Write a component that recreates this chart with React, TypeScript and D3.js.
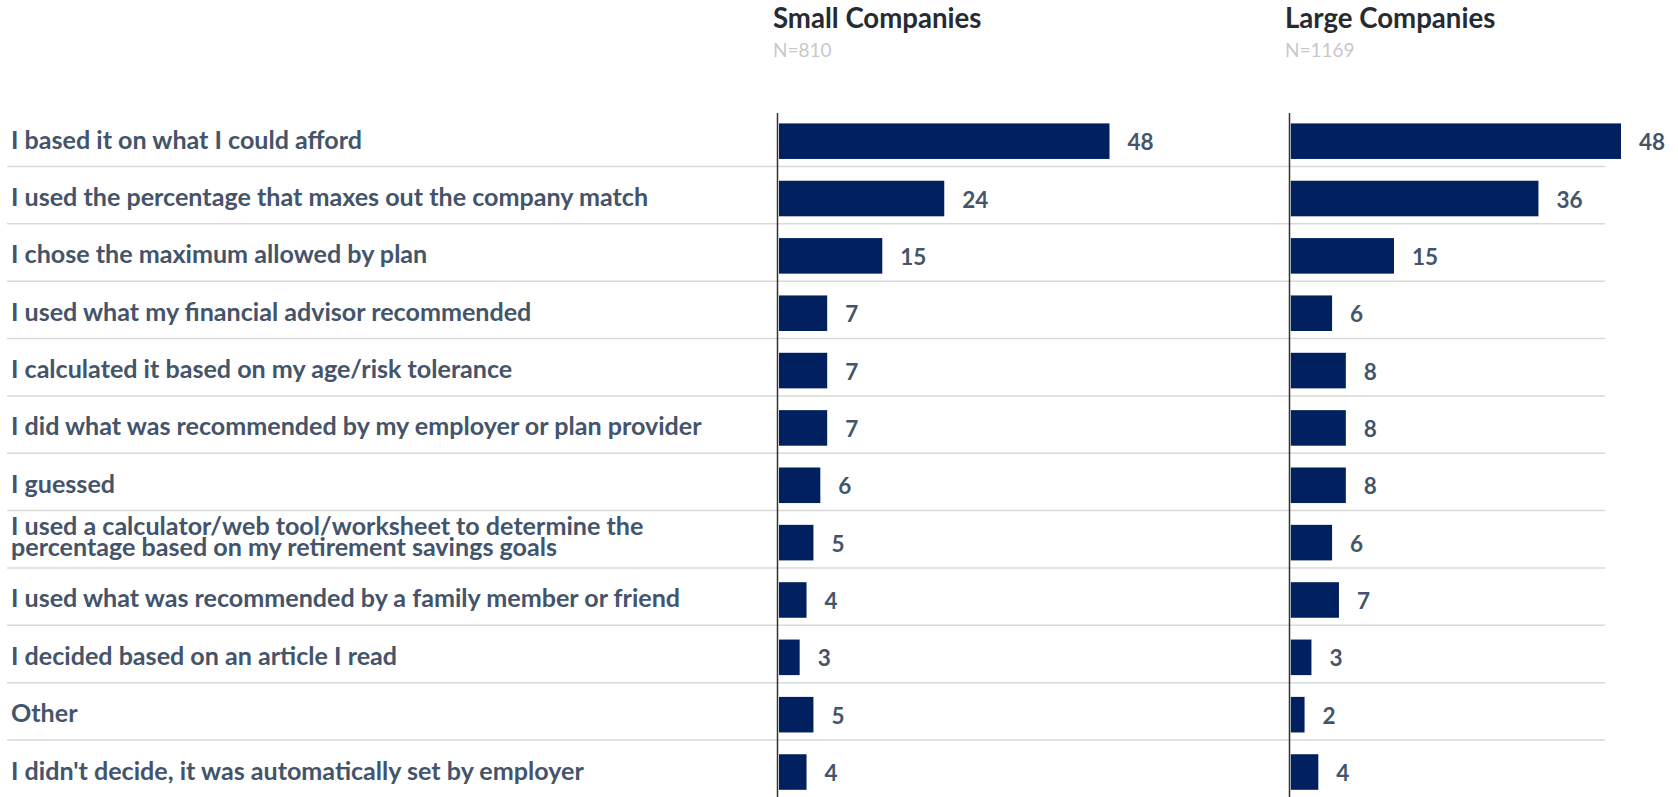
import React from "react";
import * as d3 from "d3";

const categories: string[] = [
  "I based it on what I could afford",
  "I used the percentage that maxes out the company match",
  "I chose the maximum allowed by plan",
  "I used what my financial advisor recommended",
  "I calculated it based on my age/risk tolerance",
  "I did what was recommended by my employer or plan provider",
  "I guessed",
  "I used a calculator/web tool/worksheet to determine the\npercentage based on my retirement savings goals",
  "I used what was recommended by a family member or friend",
  "I decided based on an article I read",
  "Other",
  "I didn't decide, it was automatically set by employer",
];

const smallValues: number[] = [48, 24, 15, 7, 7, 7, 6, 5, 4, 3, 5, 4];
const largeValues: number[] = [48, 36, 15, 6, 8, 8, 8, 6, 7, 3, 2, 4];

const panelTitles: string[] = ["Small Companies", "Large Companies"];
const panelN: string[] = ["N=810", "N=1169"];

const W = 1678;
const H = 797;
const FONT = "Lato, 'Open Sans', sans-serif";
const BAR = "#002060";
const TEXT = "#44546A";

export default function App() {
  const y = d3
    .scaleBand<string>()
    .domain(categories)
    .range([112.5, 112.5 + 12 * 57.35])
    .paddingInner(0.38)
    .paddingOuter(0.19);

  const panels = [
    { title: panelTitles[0], n: panelN[0], values: smallValues, axisX: 777.5, x: d3.scaleLinear().domain([0, 48]).range([779, 1109.5]) },
    { title: panelTitles[1], n: panelN[1], values: largeValues, axisX: 1289.5, x: d3.scaleLinear().domain([0, 48]).range([1290.8, 1621]) },
  ];

  const center = (c: string) => (y(c) as number) + y.bandwidth() / 2;

  return (
    <svg width={W} height={H} style={{ position: "absolute", left: 0, top: 0, background: "#fff" }} fontFamily={FONT}>
      {/* separators */}
      {categories.slice(0, -1).map((c) => (
        <line key={"sep" + c} x1={7} x2={1605} y1={center(c) + 25.3} y2={center(c) + 25.3} stroke="#D9D9D9" strokeWidth={1.5} />
      ))}
      {/* category labels */}
      {categories.map((c) => {
        const lines = c.split("\n");
        const cy = center(c);
        if (lines.length === 1) {
          return (
            <text key={"lab" + c} x={11} y={cy + 7.5} fill={TEXT} fontSize={25.1} fontWeight={700}>
              {c}
            </text>
          );
        }
        return (
          <text key={"lab" + c} x={11} fill={TEXT} fontSize={25.1} fontWeight={700}>
            <tspan x={11} y={cy - 8}>{lines[0]}</tspan>
            <tspan x={11} y={cy + 13}>{lines[1]}</tspan>
          </text>
        );
      })}
      {panels.map((p) => (
        <g key={p.title}>
          <text x={p.axisX - 4.5} y={28} fill="#262B33" fontSize={27.6} fontWeight={700}>
            {p.title}
          </text>
          <text x={p.axisX - 4.5} y={57} fill="#C8C8C8" fontSize={19}>
            {p.n}
          </text>
          {categories.map((c, i) => (
            <g key={c}>
              <rect x={p.x(0)} y={y(c)} width={p.x(p.values[i]) - p.x(0)} height={y.bandwidth()} fill={BAR} />
              <text x={p.x(p.values[i]) + 18} y={center(c) + 9} fill={TEXT} fontSize={22.5} fontWeight={700}>
                {p.values[i]}
              </text>
            </g>
          ))}
          <line x1={p.axisX} x2={p.axisX} y1={113} y2={H} stroke="#333" strokeWidth={1.5} />
        </g>
      ))}
    </svg>
  );
}
